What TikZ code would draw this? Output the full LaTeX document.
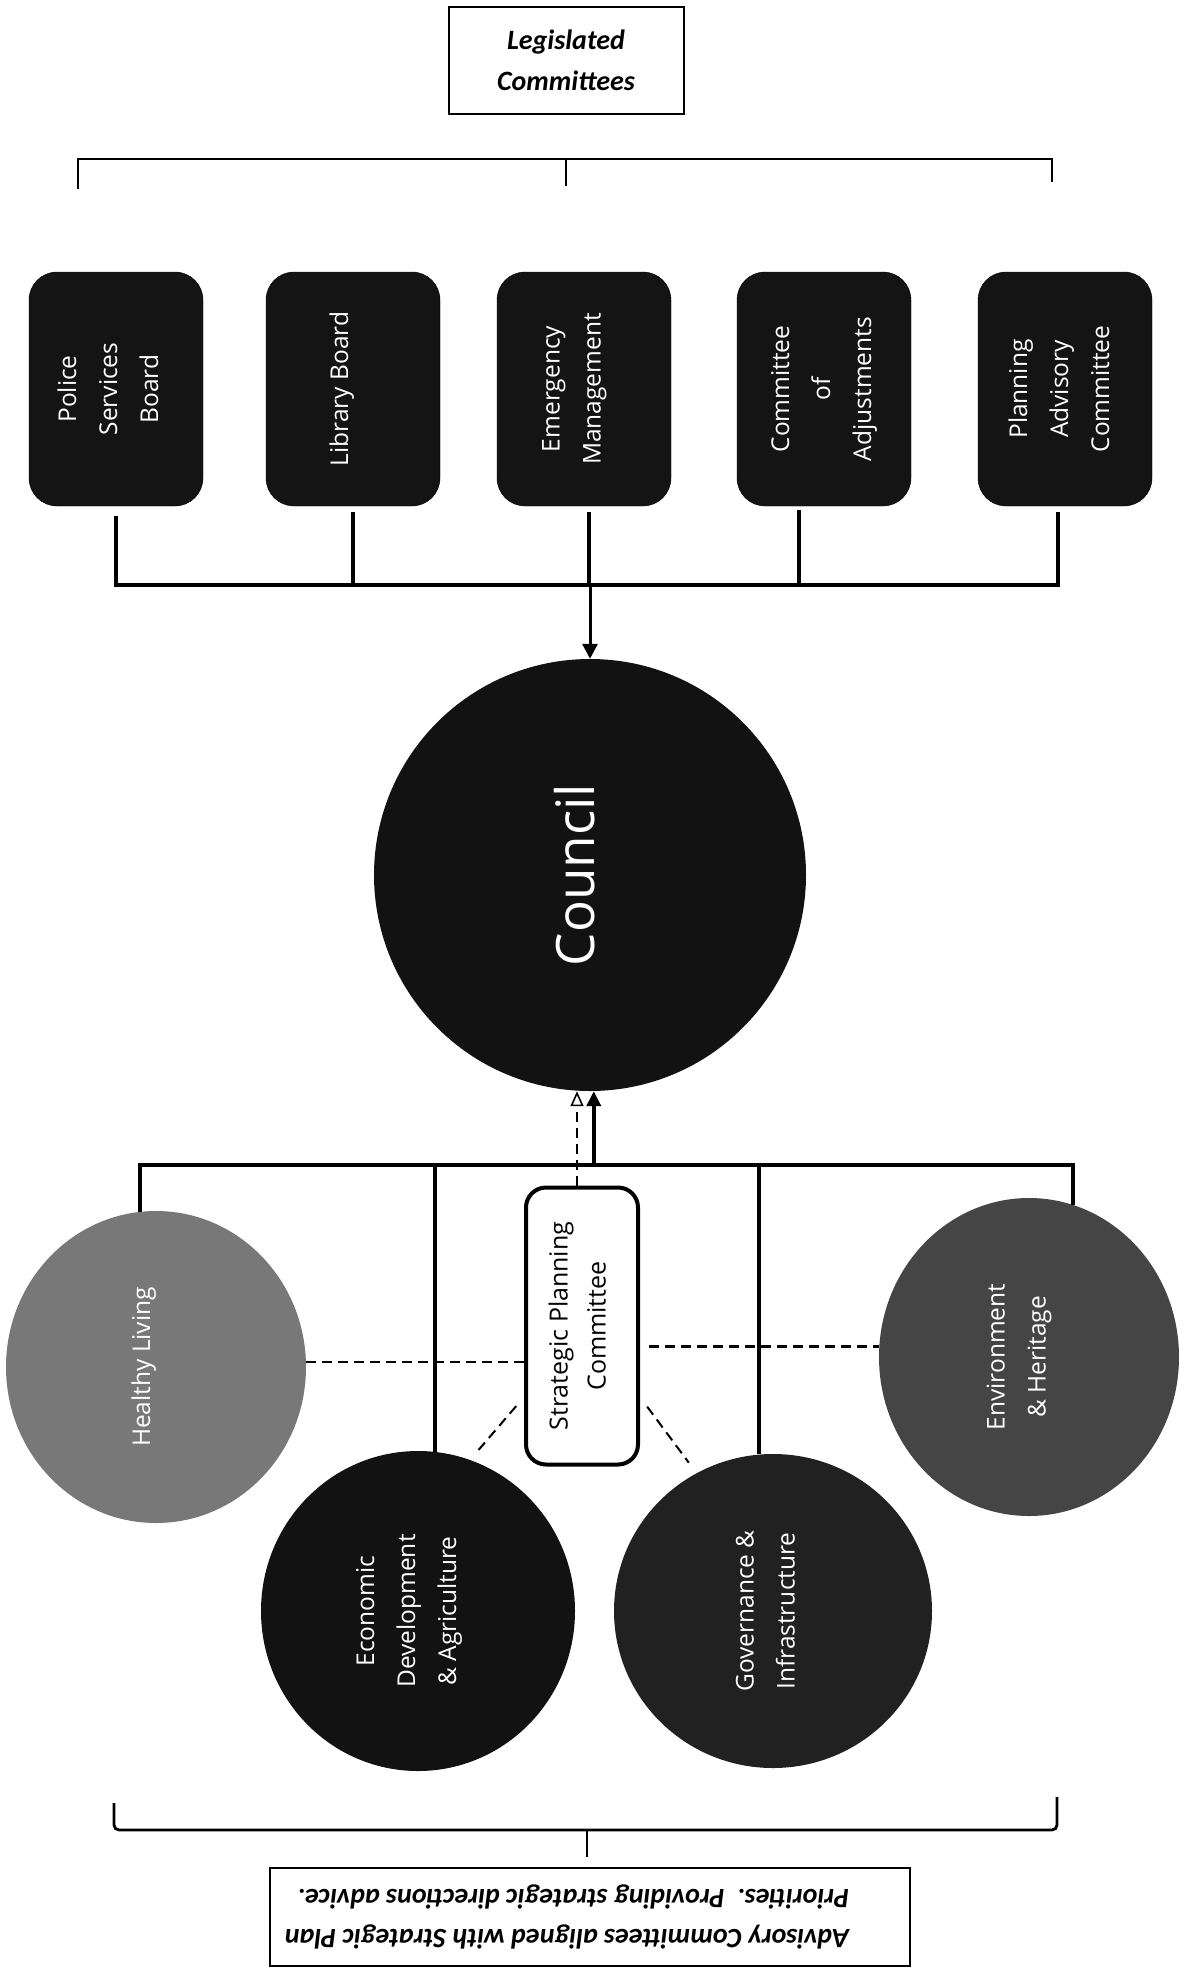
\documentclass[tikz,border=0pt]{standalone}
\usepackage{fontspec}
\usepackage{graphicx}
\setmainfont{Open Sans}
\newfontfamily\notefont{Carlito}
\usetikzlibrary{calc,positioning,shapes.geometric,arrows.meta}

\tikzset{
  legbox/.style={draw=black, fill=black!92, rounded corners=28pt, minimum width=174pt,
    minimum height=234pt, inner sep=0pt, text=white, font=\fontsize{24.5}{41}\selectfont},
  advcircle/.style={ellipse, inner sep=0pt, text=white, font=\fontsize{24.5}{41}\selectfont},
  notebox/.style={draw, line width=2pt, inner sep=0pt, align=center,
    font=\notefont\bfseries\itshape\fontsize{28}{41}\selectfont},
  link/.style={line width=4pt},
  bracket/.style={line width=2.8pt},
  dashlink/.style={line width=2.4pt, dash pattern=on 10pt off 6pt},
}
% rotated text, pushed left by half of #1
\newcommand{\sidetext}[2][0pt]{\rotatebox{90}{\begin{tabular}{@{}c@{}}#2\end{tabular}}\hspace*{#1}}

\begin{document}
\begin{tikzpicture}[x=1pt, y=-1pt]
  \useasboundingbox (0,0) rectangle (1192,1968);

  % legislated committees
  \node [notebox, minimum width=235pt, minimum height=107pt] at (566,60) (legis) {Legislated\\Committees};
  \coordinate (legbrL) at (78,189);
  \coordinate (legbrM) at (566,159);
  \coordinate (legbrR) at (1052,182);
  \draw [bracket] (legbrL) |- (legbrR |- legbrM) -- (legbrR);
  \draw [bracket] (legbrM) -- ++(0,27);

  \foreach \name/\x/\txt/\pad in {pb/116/{Police\\Services\\Board}/14pt, lb/353/{Library Board}/26pt,
      em/584/{Emergency\\Management}/24pt, ca/824/{Committee\\of\\Adjustments}/4pt,
      pa/1065/{Planning\\Advisory\\Committee}/10pt}
  {
    \node [legbox] at (\x,389) (\name) {\sidetext[\pad]{\txt}};
  }

  \coordinate (legbus) at (590,585);
  \draw [link] ([yshift=-10pt]pb.south) |- (legbus) -| ([xshift=-7pt,yshift=-6pt]pa.south);
  \draw [link] ([yshift=-6pt]lb.south) -- (lb.south |- legbus);
  \draw [link] ([xshift=5pt,yshift=-6pt]em.south) -- ([xshift=5pt]em.south |- legbus);
  \draw [link] ([xshift=-25pt,yshift=-4pt]ca.south) -- ([xshift=-25pt]ca.south |- legbus);

  % council
  \node [circle, fill=black!93, minimum size=432pt, inner sep=0pt, text=white,
    font=\fontsize{53}{60}\selectfont] at (590,875) (council) {\rotatebox{90}{Council}\hspace*{30pt}};
  \draw [link, line width=3pt, -{Triangle[length=15pt,width=15pt]}] (legbus) -- (council.north);

  % advisory committees
  \node [draw, line width=4pt, rounded corners=20pt, minimum width=112pt, minimum height=277pt,
    inner sep=0pt, font=\fontsize{25}{38}\selectfont] at (582,1326) (spc) {\sidetext[6pt]{Strategic Planning\\Committee}};

  \node [advcircle, fill=black!53, minimum width=300pt, minimum height=312pt] at (156,1367) (hl) {\sidetext[28pt]{Healthy Living}};
  \node [advcircle, fill=black!93, minimum width=314pt, minimum height=320pt] at (418,1611) (econ) {\sidetext[22pt]{Economic\\Development\\\& Agriculture}};
  \node [advcircle, fill=black!87, minimum width=318pt, minimum height=314pt] at (773,1611) (gov) {\sidetext[14pt]{Governance \&\\Infrastructure}};
  \node [advcircle, fill=black!73, minimum width=300pt, minimum height=318pt] at (1029,1357) (env) {\sidetext[24pt]{Environment\\\& Heritage}};

  \coordinate (advbus) at (590,1165);
  \draw [link] (hl.96) |- (advbus) -| (env.74);
  \draw [link] (econ.84) -- (econ.84 |- advbus);
  \draw [link] (gov.95) -- (gov.95 |- advbus);

  \draw [link, -{Triangle[length=15pt,width=14pt]}] (advbus -| council.271) -- (council.271);
  \draw [dashlink, -{Triangle[open, length=15pt, width=13pt, line width=1.6pt]}]
    ([xshift=-5pt]spc.north) -- ([xshift=-5pt]spc.north |- council.south);

  \draw [dashlink] (hl.2) -- (hl.2 -| spc.west);
  \draw [dashlink] ([xshift=9pt]spc.east |- env.176) -- (env.176);
  \draw [dashlink, line width=2pt, shorten <=12pt, shorten >=13pt] ([yshift=-71pt]spc.west) -- (econ.71);
  \draw [dashlink, line width=2pt, shorten <=12pt, shorten >=13pt] ([yshift=-71pt]spc.east) -- (gov.119);

  % bottom note
  \node [notebox, line width=2.4pt, minimum width=640pt, minimum height=98pt, rotate=180,
    font=\notefont\bfseries\itshape\fontsize{28}{40}\selectfont]
    at (590,1917) (advnote) {\begin{tabular}{@{\hspace{46pt}}l@{}}Advisory Committees aligned with Strategic Plan\\Priorities.~~Providing strategic directions advice.\end{tabular}};
  \coordinate (advbrL) at (114,1803);
  \coordinate (advbrM) at (587,1830);
  \coordinate (advbrR) at (1057,1797);
  \draw [bracket, rounded corners=5pt] (advbrL) |- (advbrR |- advbrM) -- (advbrR);
  \draw [bracket] (advbrM) -- ([xshift=-3pt,yshift=10pt]advnote.south);
\end{tikzpicture}
\end{document}
